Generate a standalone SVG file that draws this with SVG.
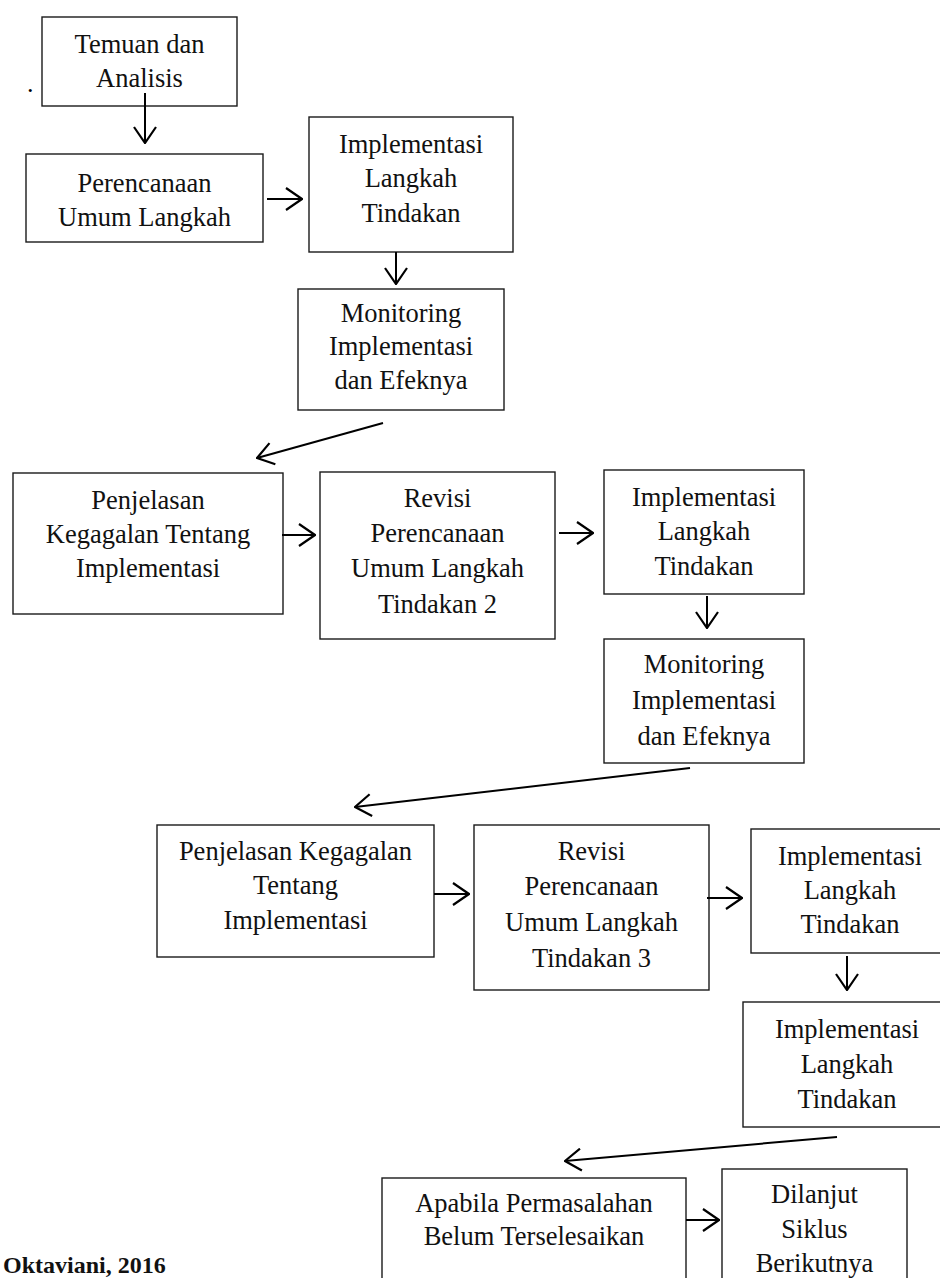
<svg xmlns="http://www.w3.org/2000/svg" width="940" height="1278" viewBox="0 0 940 1278">
<style>
.box{fill:#fff;stroke:#1a1a1a;stroke-width:1.4}
.t{font-family:"Liberation Serif","Times New Roman",serif;font-size:26.5px;fill:#111;text-anchor:middle}
.c{stroke:#000;stroke-width:2;fill:none}
</style>
<defs>
<marker id="ah" viewBox="0 0 18 24" refX="17" refY="12" markerWidth="18" markerHeight="24" markerUnits="userSpaceOnUse" orient="auto">
<path d="M1,1 L17,12 L1,23" fill="none" stroke="#000" stroke-width="2.2"/>
</marker>
</defs>
<rect width="940" height="1278" fill="#fff"/>
<text x="27" y="92" style="font-family:'Liberation Serif',serif;font-size:26px">.</text>

<g id="n1"><rect class="box" x="42" y="17" width="195" height="89"/><text class="t" x="139.5" y="53">Temuan dan</text><text class="t" x="139.5" y="87">Analisis</text></g>
<g id="n2"><rect class="box" x="26" y="154" width="237" height="88"/><text class="t" x="144.5" y="192">Perencanaan</text><text class="t" x="144.5" y="226">Umum Langkah</text></g>
<g id="n3"><rect class="box" x="309" y="117" width="204" height="135"/><text class="t" x="411" y="153">Implementasi</text><text class="t" x="411" y="187">Langkah</text><text class="t" x="411" y="222">Tindakan</text></g>
<g id="n4"><rect class="box" x="298" y="289" width="206" height="121"/><text class="t" x="401" y="322">Monitoring</text><text class="t" x="401" y="355">Implementasi</text><text class="t" x="401" y="389">dan Efeknya</text></g>
<g id="n5"><rect class="box" x="13" y="473" width="270" height="141"/><text class="t" x="148" y="509">Penjelasan</text><text class="t" x="148" y="543">Kegagalan Tentang</text><text class="t" x="148" y="577">Implementasi</text></g>
<g id="n6"><rect class="box" x="320" y="472" width="235" height="167"/><text class="t" x="437.5" y="507">Revisi</text><text class="t" x="437.5" y="542">Perencanaan</text><text class="t" x="437.5" y="577">Umum Langkah</text><text class="t" x="437.5" y="613">Tindakan 2</text></g>
<g id="n7"><rect class="box" x="604" y="470" width="200" height="124"/><text class="t" x="704" y="506">Implementasi</text><text class="t" x="704" y="540">Langkah</text><text class="t" x="704" y="575">Tindakan</text></g>
<g id="n8"><rect class="box" x="604" y="639" width="200" height="124"/><text class="t" x="704" y="673">Monitoring</text><text class="t" x="704" y="709">Implementasi</text><text class="t" x="704" y="745">dan Efeknya</text></g>
<g id="n9"><rect class="box" x="157" y="825" width="277" height="132"/><text class="t" x="295.5" y="860">Penjelasan Kegagalan</text><text class="t" x="295.5" y="894">Tentang</text><text class="t" x="295.5" y="929">Implementasi</text></g>
<g id="n10"><rect class="box" x="474" y="825" width="235" height="165"/><text class="t" x="591.5" y="860">Revisi</text><text class="t" x="591.5" y="895">Perencanaan</text><text class="t" x="591.5" y="931">Umum Langkah</text><text class="t" x="591.5" y="967">Tindakan 3</text></g>
<g id="n11"><rect class="box" x="751" y="829" width="200" height="124"/><text class="t" x="850" y="865">Implementasi</text><text class="t" x="850" y="899">Langkah</text><text class="t" x="850" y="933">Tindakan</text></g>
<g id="n12"><rect class="box" x="743" y="1002" width="208" height="125"/><text class="t" x="847" y="1038">Implementasi</text><text class="t" x="847" y="1073">Langkah</text><text class="t" x="847" y="1108">Tindakan</text></g>
<g id="n13"><rect class="box" x="382" y="1178" width="304" height="120"/><text class="t" x="534" y="1212">Apabila Permasalahan</text><text class="t" x="534" y="1245">Belum Terselesaikan</text></g>
<g id="n14"><rect class="box" x="722" y="1169" width="185" height="130"/><text class="t" x="814.5" y="1203">Dilanjut</text><text class="t" x="814.5" y="1238">Siklus</text><text class="t" x="814.5" y="1272">Berikutnya</text></g>

<g id="connectors">
<line class="c" x1="145" y1="93" x2="145" y2="143" marker-end="url(#ah)"/>
<line class="c" x1="267" y1="199" x2="302" y2="199" marker-end="url(#ah)"/>
<line class="c" x1="396" y1="252" x2="396" y2="284" marker-end="url(#ah)"/>
<line class="c" x1="383" y1="423" x2="257" y2="458" marker-end="url(#ah)"/>
<line class="c" x1="282" y1="535" x2="315" y2="535" marker-end="url(#ah)"/>
<line class="c" x1="559" y1="533" x2="593" y2="533" marker-end="url(#ah)"/>
<line class="c" x1="707" y1="596" x2="707" y2="628" marker-end="url(#ah)"/>
<line class="c" x1="690" y1="768" x2="355" y2="807" marker-end="url(#ah)"/>
<line class="c" x1="434" y1="894" x2="469" y2="894" marker-end="url(#ah)"/>
<line class="c" x1="707" y1="898" x2="742" y2="898" marker-end="url(#ah)"/>
<line class="c" x1="847" y1="956" x2="847" y2="990" marker-end="url(#ah)"/>
<line class="c" x1="837" y1="1137" x2="565" y2="1161" marker-end="url(#ah)"/>
<line class="c" x1="686" y1="1220" x2="719" y2="1220" marker-end="url(#ah)"/>
</g>
<text x="3" y="1273" style="font-family:'Liberation Serif',serif;font-size:24px;font-weight:bold;fill:#111">Oktaviani, 2016</text>
</svg>
